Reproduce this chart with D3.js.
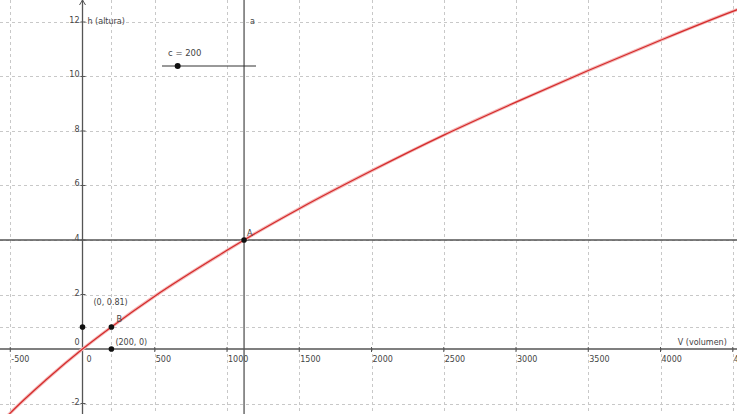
<!DOCTYPE html>
<html><head><meta charset="utf-8">
<script src="https://cdn.jsdelivr.net/npm/d3@7"></script>
<style>
html,body{margin:0;padding:0;background:#fff;overflow:hidden}
svg{display:block}
text{font-family:"DejaVu Sans",sans-serif;fill:#444}
</style></head>
<body>
<script>
// ---- data ----
const curveV = [-560, -500, -250, 0, 200, 500, 1000, 1118, 1500, 2000, 2500, 3000, 3500, 4000, 4500, 4550];
const curveH = [-2.68, -2.35, -1.12, 0, 0.81, 1.94, 3.62, 4.0, 5.15, 6.54, 7.85, 9.06, 10.22, 11.33, 12.39, 12.49];
const xTicks = [-500, 0, 500, 1000, 1500, 2000, 2500, 3000, 3500, 4000, 4500];
const xTickLabels = ["-500", "0", "500", "1000", "1500", "2000", "2500", "3000", "3500", "4000", "4500"];
const yTicks = [-2, 2, 4, 6, 8, 10, 12];
const yTickLabels = ["-2", "2", "4", "6", "8", "10", "12"];
const lineA_V = [1118];          // vertical line a
const lineH_h = [4];             // horizontal line h = 4
const pointA = [1118, 4];
const pointB = [200, 0.81];
const pointY = [0, 0.81];
const pointX = [200, 0];
const sliderValue = [200];
const sliderRange = [0, 1200];

const W = 737, H = 414;
const x = d3.scaleLinear().domain([-571, 4529.4]).range([0, W]);
const y = d3.scaleLinear().domain([-2.385, 12.807]).range([H, 0]);

const svg = d3.select("body").append("svg").attr("width", W).attr("height", H);

// grid
const grid = svg.append("g").attr("stroke", "#c8c8c8").attr("stroke-width", 1).attr("stroke-dasharray", "3,3");
grid.selectAll(".gx").data(xTicks.filter(d => d !== 0).concat([pointX[0]])).enter().append("line")
  .attr("x1", d => Math.round(x(d)) + 0.5).attr("x2", d => Math.round(x(d)) + 0.5).attr("y1", 0).attr("y2", H);
grid.selectAll(".gy").data(yTicks.concat([pointY[1]])).enter().append("line")
  .attr("y1", d => Math.round(y(d)) + 0.5).attr("y2", d => Math.round(y(d)) + 0.5).attr("x1", 0).attr("x2", W);

// axes
const axisColor = "#555";
svg.append("line").attr("x1", 0).attr("x2", W).attr("y1", y(0)).attr("y2", y(0)).attr("stroke", axisColor).attr("stroke-width", 1.3);
svg.append("line").attr("y1", 0).attr("y2", H).attr("x1", x(0)).attr("x2", x(0)).attr("stroke", axisColor).attr("stroke-width", 1.3);

// x ticks
svg.append("g").selectAll("line").data(xTicks.filter(d => d !== 0)).enter().append("line")
  .attr("x1", d => x(d)).attr("x2", d => x(d)).attr("y1", y(0) - 2).attr("y2", y(0) + 3)
  .attr("stroke", axisColor).attr("stroke-width", 1);
svg.append("g").selectAll("text").data(xTicks).enter().append("text")
  .attr("x", d => x(d) + (d === 0 ? 4 : 1)).attr("y", y(0) + 13)
  .attr("font-size", 8).text((d, i) => xTickLabels[i]);

// y ticks
svg.append("g").selectAll("line").data(yTicks).enter().append("line")
  .attr("y1", d => y(d)).attr("y2", d => y(d)).attr("x1", x(0) - 2).attr("x2", x(0) + 3)
  .attr("stroke", axisColor).attr("stroke-width", 1);
svg.append("g").selectAll("text").data(yTicks).enter().append("text")
  .attr("x", x(0) - 3).attr("y", d => y(d) + 1).attr("text-anchor", "end")
  .attr("font-size", 8).text((d, i) => yTickLabels[i]);
svg.append("text").attr("x", x(0) - 3).attr("y", y(0) - 4).attr("text-anchor", "end").attr("font-size", 8).text("0");

// axis arrow on y
svg.append("path").attr("d", `M${x(0) - 3},${5} L${x(0)},0 L${x(0) + 3},${5}`).attr("fill", "none").attr("stroke", axisColor).attr("stroke-width", 1);

// axis titles
svg.append("text").attr("x", x(0) + 5).attr("y", 24).attr("font-size", 8).text("h (altura)");
svg.append("text").attr("x", x(4500) - 6).attr("y", y(0) - 4).attr("text-anchor", "end").attr("font-size", 8).text("V (volumen)");

// line a and horizontal line
svg.append("line").attr("x1", x(lineA_V[0])).attr("x2", x(lineA_V[0])).attr("y1", 0).attr("y2", H).attr("stroke", axisColor).attr("stroke-width", 1.3);
svg.append("text").attr("x", x(lineA_V[0]) + 6).attr("y", 24).attr("font-size", 8).text("a");
svg.append("line").attr("y1", y(lineH_h[0])).attr("y2", y(lineH_h[0])).attr("x1", 0).attr("x2", W).attr("stroke", axisColor).attr("stroke-width", 1.3);

// red curve
const pts = curveV.map((v, i) => [v, curveH[i]]);
const lineGen = d3.line().x(d => x(d[0])).y(d => y(d[1])).curve(d3.curveMonotoneX);
svg.append("path").datum(pts).attr("d", lineGen)
  .attr("fill", "none").attr("stroke", "#f4b8b8").attr("stroke-width", 3.2);
svg.append("path").datum(pts).attr("d", lineGen)
  .attr("fill", "none").attr("stroke", "#d42a2a").attr("stroke-width", 1.2);

// slider
const sx = d3.scaleLinear().domain(sliderRange).range([162, 256]);
svg.append("line").attr("x1", sx.range()[0]).attr("x2", sx.range()[1]).attr("y1", 66).attr("y2", 66).attr("stroke", "#333").attr("stroke-width", 1);
svg.append("circle").attr("cx", sx(sliderValue[0])).attr("cy", 66).attr("r", 3).attr("fill", "#111");
svg.append("text").attr("x", 168).attr("y", 56).attr("font-size", 8.5).text("c = " + sliderValue[0]);

// points
const points = [pointA, pointB, pointY, pointX];
svg.append("g").selectAll("circle").data(points).enter().append("circle")
  .attr("cx", d => x(d[0])).attr("cy", d => y(d[1])).attr("r", 2.8).attr("fill", "#111");
svg.append("text").attr("x", x(pointA[0]) + 3).attr("y", y(pointA[1]) - 4).attr("font-size", 8).attr("fill", "#888").text("A");
svg.append("text").attr("x", x(pointB[0]) + 5).attr("y", y(pointB[1]) - 5).attr("font-size", 8).text("B");
svg.append("text").attr("x", x(pointY[0]) + 11).attr("y", y(pointY[1]) - 22).attr("font-size", 8).text("(" + pointY[0] + ", " + pointY[1] + ")");
svg.append("text").attr("x", x(pointX[0]) + 4).attr("y", y(pointX[1]) - 4).attr("font-size", 8).text("(" + pointX[0] + ", " + pointX[1] + ")");
</script>
</body></html>
